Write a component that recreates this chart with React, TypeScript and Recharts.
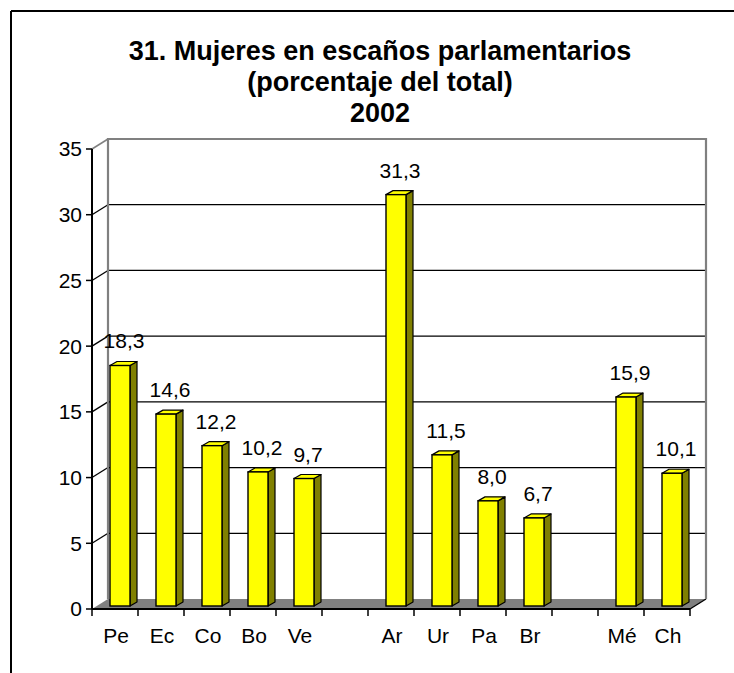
import React from 'react';
import { BarChart, Bar, XAxis, YAxis, CartesianGrid, LabelList } from 'recharts';

// ---- data ----
const categories = ['Pe', 'Ec', 'Co', 'Bo', 'Ve', '', 'Ar', 'Ur', 'Pa', 'Br', '', 'Mé', 'Ch'];
const values: (number | null)[] = [18.3, 14.6, 12.2, 10.2, 9.7, null, 31.3, 11.5, 8.0, 6.7, null, 15.9, 10.1];
const yTicks = [0, 5, 10, 15, 20, 25, 30, 35];
const titleLines = ['31. Mujeres en escaños parlamentarios', '(porcentaje del total)', '2002'];

const data = categories.map((c, i) => ({ name: c, value: values[i] }));

// ---- style constants ----
const W = 734;
const H = 673;
const FONT = '"Liberation Sans", Arial, sans-serif';
const LABEL_SIZE = 21;
const DX = 16; // depth of 3D box
const DY = -10;
const BSX = 5; // bar front shift inside depth
const BSY = -3;
const BDX = 7; // bar depth
const BDY = -4;
const YELLOW = '#FFFF00';
const OLIVE = '#808000';
const GREY = '#808080';

const Bar3D = (props: any) => {
  const { x, y, width, height } = props;
  if (x == null || y == null || !width || height == null || isNaN(height) || height <= 0) return null;
  const fx = x + BSX;
  const fy = y + BSY;
  const h = height;
  return (
    <g>
      <polygon
        points={`${fx + width},${fy} ${fx + width + BDX},${fy + BDY} ${fx + width + BDX},${fy + h + BDY} ${fx + width},${fy + h}`}
        fill={OLIVE}
        stroke="#000"
        strokeWidth={1.2}
        strokeLinejoin="round"
      />
      <polygon
        points={`${fx},${fy} ${fx + BDX},${fy + BDY} ${fx + width + BDX},${fy + BDY} ${fx + width},${fy}`}
        fill={YELLOW}
        stroke="#000"
        strokeWidth={1.2}
        strokeLinejoin="round"
      />
      <rect x={fx} y={fy} width={width} height={h} fill={YELLOW} stroke="#000" strokeWidth={1.4} />
    </g>
  );
};

const gridLine = (p: any) => {
  const { x1, y1, x2, index } = p;
  const pts: number[] = p.horizontalPoints || [];
  const top = p.y != null ? p.y : Math.min(...pts);
  const bottom = p.y != null && p.height != null ? p.y + p.height : Math.max(...pts);
  const k = `hg-${index}`;
  if (Math.abs(y1 - bottom) < 0.5) {
    return (
      <g key={k}>
        <polygon
          points={`${x1},${y1} ${x1 + DX},${y1 + DY} ${x2 + DX},${y1 + DY} ${x2},${y1}`}
          fill={GREY}
          stroke="none"
        />
        <line x1={x2} y1={y1} x2={x2 + DX} y2={y1 + DY} stroke="#000" strokeWidth={1.4} />
      </g>
    );
  }
  if (Math.abs(y1 - top) < 0.5) {
    return (
      <g key={k}>
        <polyline
          points={`${x1 + DX},${bottom + DY} ${x1 + DX},${y1 + DY} ${x2 + DX},${y1 + DY} ${x2 + DX},${bottom + DY}`}
          fill="none"
          stroke={GREY}
          strokeWidth={2.2}
        />
        <line x1={x1} y1={y1} x2={x1 + DX} y2={y1 + DY} stroke={GREY} strokeWidth={1.5} />
      </g>
    );
  }
  return (
    <g key={k}>
      <line x1={x1} y1={y1} x2={x1 + DX} y2={y1 + DY} stroke="#000" strokeWidth={1.3} />
      <line x1={x1 + DX} y1={y1 + DY} x2={x2 + DX} y2={y1 + DY} stroke="#000" strokeWidth={1.3} />
    </g>
  );
};

const XTick = (props: any) => {
  const { x, y, payload, index } = props;
  const off = payload && payload.offset != null ? payload.offset : 0;
  const last = index === categories.length - 1;
  return (
    <g>
      <line x1={x - off} y1={y} x2={x - off} y2={y + 7} stroke="#000" strokeWidth={1.5} />
      {last && <line x1={x + off} y1={y} x2={x + off} y2={y + 7} stroke="#000" strokeWidth={1.5} />}
      <text x={x + 1} y={y + 34} textAnchor="middle" fontSize={LABEL_SIZE} fontFamily={FONT} fill="#000">
        {payload.value}
      </text>
    </g>
  );
};

const renderLabel = (p: any) => {
  const { x, y, width, value } = p;
  if (value == null || x == null) return null;
  return (
    <text
      x={x + width / 2 + 9}
      y={y - 20}
      textAnchor="middle"
      fontSize={LABEL_SIZE}
      fontFamily={FONT}
      fill="#000"
    >
      {Number(value).toFixed(1).replace('.', ',')}
    </text>
  );
};

export default function App() {
  return (
    <div style={{ position: 'absolute', left: 0, top: 0, width: W, height: H, overflow: 'hidden', background: '#fff' }}>
      <svg width={W} height={H} style={{ position: 'absolute', left: 0, top: 0 }}>
        <line x1={11} y1={11} x2={W} y2={11} stroke="#000" strokeWidth={2} />
        <line x1={11} y1={11} x2={11} y2={H} stroke="#000" strokeWidth={2} />
        {titleLines.map((t, i) => (
          <text
            key={i}
            x={380}
            y={60 + i * 31}
            textAnchor="middle"
            fontSize={27}
            fontWeight="bold"
            fontFamily={FONT}
            fill="#000"
          >
            {t}
          </text>
        ))}
      </svg>
      <div style={{ position: 'absolute', left: 0, top: 0 }}>
        <BarChart width={W} height={H} data={data} margin={{ top: 149, right: 44, bottom: 0, left: 0 }} barSize={20}>
          <CartesianGrid horizontal={gridLine} vertical={false} />
          <XAxis
            dataKey="name"
            height={64}
            axisLine={{ stroke: '#000', strokeWidth: 2 }}
            tickLine={false}
            tickSize={0}
            tickMargin={0}
            interval={0}
            tick={<XTick />}
          />
          <YAxis
            width={92}
            domain={[0, 35]}
            ticks={yTicks}
            interval={0}
            axisLine={{ stroke: '#000', strokeWidth: 2 }}
            tickLine={{ stroke: '#000', strokeWidth: 1.5 }}
            tickSize={6}
            tickMargin={4}
            tick={{ fontSize: LABEL_SIZE, fontFamily: FONT, fill: '#000' }}
          />
          <Bar dataKey="value" isAnimationActive={false} shape={<Bar3D />}>
            <LabelList dataKey="value" content={renderLabel} />
          </Bar>
        </BarChart>
      </div>
    </div>
  );
}
